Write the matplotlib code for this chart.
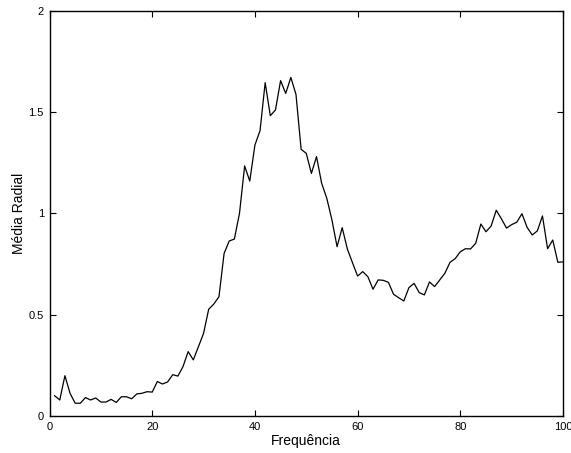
import numpy as np
import matplotlib.pyplot as plt

plt.rcParams['font.family'] = ['Liberation Sans', 'DejaVu Sans']

# radial mean per frequency bin
freq = np.arange(1, 101)
media_radial = [
    0.100, 0.079, 0.199, 0.112, 0.063, 0.063, 0.091, 0.079, 0.089, 0.069,
    0.069, 0.082, 0.067, 0.095, 0.095, 0.085, 0.109, 0.112, 0.120, 0.118,
    0.170, 0.158, 0.168, 0.204, 0.197, 0.244, 0.318, 0.277, 0.342, 0.408,
    0.527, 0.553, 0.589, 0.803, 0.864, 0.874, 1.001, 1.235, 1.160, 1.338,
    1.409, 1.646, 1.483, 1.511, 1.656, 1.593, 1.672, 1.588, 1.317, 1.297,
    1.198, 1.281, 1.149, 1.075, 0.968, 0.836, 0.930, 0.825, 0.757, 0.691,
    0.713, 0.688, 0.626, 0.672, 0.670, 0.660, 0.601, 0.584, 0.568, 0.634,
    0.655, 0.609, 0.598, 0.662, 0.639, 0.672, 0.705, 0.759, 0.777, 0.811,
    0.826, 0.825, 0.853, 0.948, 0.910, 0.938, 1.016, 0.974, 0.928, 0.945,
    0.957, 0.999, 0.932, 0.894, 0.914, 0.988, 0.826, 0.869, 0.759, 0.761,
]

xticks = [0, 20, 40, 60, 80, 100]
yticks = [0, 0.5, 1, 1.5, 2]
ytick_labels = ['0', '0.5', '1', '1.5', '2']

fig = plt.figure(figsize=(5.71, 4.53), dpi=100)
ax = fig.add_axes([0.0867, 0.0817, 0.8993, 0.894])

ax.plot(freq, media_radial, color='black', linewidth=0.9)

ax.set_xlim(0, 100)
ax.set_ylim(0, 2)
ax.set_xticks(xticks)
ax.set_yticks(yticks)
ax.set_yticklabels(ytick_labels)
ax.tick_params(direction='in', length=4, width=0.8, labelsize=8,
               top=True, right=True, pad=4)
for s in ax.spines.values():
    s.set_linewidth(1.0)

ax.set_xlabel('Frequência', fontsize=10, labelpad=2)
ax.set_ylabel('Média Radial', fontsize=10, labelpad=2)

fig.savefig('out.png', dpi=100)
